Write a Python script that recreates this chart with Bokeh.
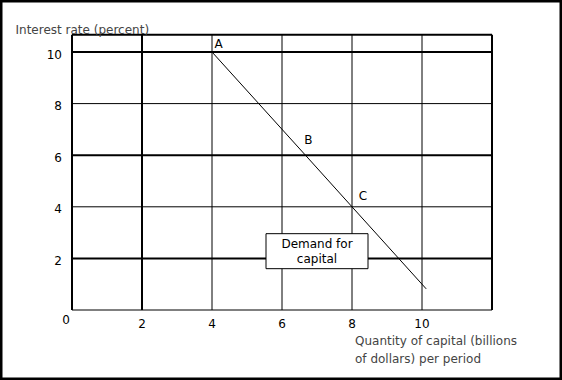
from bokeh.plotting import figure
from bokeh.models import Range1d, Label
from bokeh.core.properties import value
from bokeh.embed import file_html
from bokeh.resources import INLINE

# Demand-for-capital schedule (quantity in billions of dollars, rate in percent)
quantity = [4.0, 6.67, 8.0, 10.12]
interest = [10.0, 6.0, 4.0, 0.82]

# Labelled points on the schedule
point_names = ["A", "B", "C"]
point_qty = [4.0, 6.67, 8.0]
point_rate = [10.0, 6.0, 4.0]

# Axes
x_ticks = [2, 4, 6, 8, 10]
x_tick_labels = ["2", "4", "6", "8", "10"]
y_ticks = [2, 4, 6, 8, 10]
y_tick_labels = ["2", "4", "6", "8", "10"]
x_max = 12
y_max = 10.67

# Note box
note_text = ["Demand for", "capital"]
note_at = (7.0, 2.28)

FONT_NAME = "DejaVu Sans"
FONT = value(FONT_NAME)
FS = "12px"
W, H = 562, 380

# canvas <-> data mapping: the plot frame spans the whole canvas
x0_px, x_px_per_unit = 71.5, 35.0
y0_px, y_px_per_unit = 309.5, 25.8

p = figure(
    width=W, height=H,
    x_range=Range1d(-x0_px / x_px_per_unit, (W - x0_px) / x_px_per_unit),
    y_range=Range1d(-(H - y0_px) / y_px_per_unit, y0_px / y_px_per_unit),
    x_axis_type=None, y_axis_type=None,
    toolbar_location=None, output_backend="svg",
    min_border=0,
)
p.background_fill_color = "white"
p.border_fill_color = "white"
p.outline_line_color = "black"
p.outline_line_width = 4

# Grid: frame edges plus tick lines; some rules are drawn heavier
x_grid = [0] + x_ticks + [x_max]
x_grid_w = [2, 2, 1, 1, 1, 1, 2]
y_grid = [0] + y_ticks + [y_max]
y_grid_w = [1, 2, 1, 2, 1, 2, 2]

p.segment(x0=x_grid, x1=x_grid, y0=[0] * len(x_grid), y1=[y_max] * len(x_grid),
          line_color="black", line_width=x_grid_w)
p.segment(x0=[0] * len(y_grid), x1=[x_max] * len(y_grid), y0=y_grid, y1=y_grid,
          line_color="black", line_width=y_grid_w)

# Demand curve
p.line(quantity, interest, line_color="black", line_width=1)

# Tick labels
p.text(x=x_ticks, y=[0] * len(x_ticks), text=x_tick_labels,
       text_font=FONT, text_font_size=FS, text_color="black",
       text_align="center", text_baseline="middle", y_offset=13)
p.text(x=[0] * len(y_ticks), y=y_ticks, text=y_tick_labels,
       text_font=FONT, text_font_size=FS, text_color="black",
       text_align="right", text_baseline="middle", x_offset=-10, y_offset=2)
p.text(x=[0], y=[0], text=["0"], text_font=FONT, text_font_size=FS,
       text_color="black", text_align="center", text_baseline="middle",
       x_offset=-6, y_offset=9)

# Point labels
pt_dx = [6.5, 3, 11]
pt_dy = [-8.5, -15, -11]
p.text(x=point_qty, y=point_rate, text=point_names,
       text_font=FONT, text_font_size=FS, text_color="black",
       text_align="center", text_baseline="middle",
       x_offset=pt_dx, y_offset=pt_dy)

# Note box
p.rect(x=[note_at[0]], y=[note_at[1]], width=102, height=35,
       width_units="screen", height_units="screen",
       fill_color="white", line_color="black", line_width=1)
p.text(x=[note_at[0]] * 2, y=[note_at[1]] * 2, text=note_text,
       text_font=FONT, text_font_size=FS, text_color="black",
       text_align="center", text_baseline="middle", y_offset=[-7, 8])

# Axis titles
p.add_layout(Label(x=15, y=H - 29, x_units="screen", y_units="screen",
                   text="Interest rate (percent)", text_font=FONT_NAME,
                   text_font_size=FS, text_baseline="middle"))
p.add_layout(Label(x=354.5, y=H - 340, x_units="screen", y_units="screen",
                   text="Quantity of capital (billions", text_font=FONT_NAME,
                   text_font_size=FS, text_baseline="middle"))
p.add_layout(Label(x=354.5, y=H - 358, x_units="screen", y_units="screen",
                   text="of dollars) per period", text_font=FONT_NAME,
                   text_font_size=FS, text_baseline="middle"))

open("out.html", "w").write(file_html(p, INLINE))
